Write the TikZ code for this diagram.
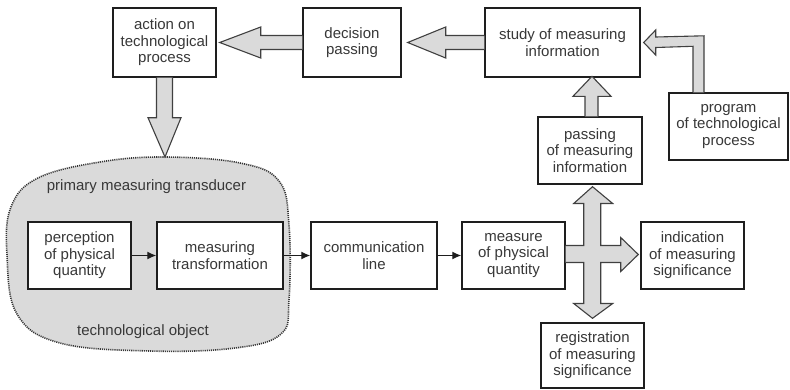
\documentclass[tikz,border=0pt]{standalone}
\usepackage{fontspec}
\setmainfont{Liberation Sans}
\usetikzlibrary{arrows.meta,calc}
\definecolor{ink}{HTML}{1E1E1E}
\definecolor{txt}{HTML}{383838}
\definecolor{shade}{HTML}{DADADA}
\tikzset{
  blk/.style={draw=ink, line width=1.4pt, fill=white, align=center, inner sep=0pt,
    text=txt, font=\fontsize{15}{16.6}\selectfont},
  barrow/.style={draw=ink!85, line width=1.1pt, fill=shade, line join=miter},
  thin/.style={draw=ink, line width=1.3pt, -{Latex[length=9pt,width=8pt]}},
  lbl/.style={text=txt, font=\fontsize{15}{16.6}\selectfont, inner sep=0pt},
}
\begin{document}
\begin{tikzpicture}[x=1pt, y=-1pt]
\useasboundingbox (0,0) rectangle (790,389);

% technological object (dotted region)
\path[fill=shade, draw=ink!90, line width=1.6pt, dash pattern=on 1.1pt off 1pt]
  plot[smooth cycle, tension=0.65] coordinates {
    (165,157) (240,163) (279,181) (289,225) (289,300) (281,334) (235,348)
    (150,351) (60,343) (17,314) (7,255) (11,207) (38,178) (100,162)};
\coordinate (objtop) at (165,157);
\node[lbl] (ptrans) at (146.5,187) {primary measuring transducer};
\node[lbl] (tobj) at (143,332) {technological object};

% blocks
\node[blk, minimum width=103pt, minimum height=69pt] (act)  at (164.5,42.5) {action on\\technological\\process};
\node[blk, minimum width=98pt,  minimum height=69pt] (dec)  at (352,42.5)   {decision\\passing};
\node[blk, minimum width=155pt, minimum height=69pt] (stud) at (562.5,42.5) {study of measuring\\information};
\node[blk, minimum width=119pt, minimum height=67pt] (prog) at (728.5,126.5) {program\\of technological\\process};
\node[blk, minimum width=104pt, minimum height=67pt] (pass) at (590,150.5)  {passing\\of measuring\\information};
\node[blk, minimum width=103pt, minimum height=67pt] (perc) at (79.5,255.5) {perception\\of physical\\quantity};
\node[blk, minimum width=126pt, minimum height=67pt] (mtr)  at (220,255.5)  {measuring\\transformation};
\node[blk, minimum width=126pt, minimum height=67pt] (comm) at (374,255.5)  {communication\\line};
\node[blk, minimum width=103pt, minimum height=67pt] (meas) at (513.5,255.5) {measure\\of physical\\quantity};
\node[blk, minimum width=103pt, minimum height=67pt] (ind)  at (692.5,255.5) {indication\\of measuring\\significance};
\node[blk, minimum width=103pt, minimum height=65pt] (reg)  at (592.5,355.5) {registration\\of measuring\\significance};

% thin signal arrows
\draw[thin] (perc.east) -- (mtr.west);
\draw[thin] (mtr.east) -- (comm.west);
\draw[thin] (comm.east) -- (meas.west);

% decision -> action
\draw[barrow] ($(dec.west)+(0,-7)$) -- ($(act.east)+(44,-7)$) -- ($(act.east)+(44,-15.5)$)
  -- ($(act.east)+(3,0)$) -- ($(act.east)+(44,15.5)$) -- ($(act.east)+(44,7)$) -- ($(dec.west)+(0,7)$);
% study -> decision
\draw[barrow] ($(stud.west)+(0,-7)$) -- ($(dec.east)+(44,-7)$) -- ($(dec.east)+(44,-15.5)$)
  -- ($(dec.east)+(6,0)$) -- ($(dec.east)+(44,15.5)$) -- ($(dec.east)+(44,7)$) -- ($(stud.west)+(0,7)$);
% action -> technological object
\draw[barrow] ($(act.south)+(-8,0)$) -- ($(act.south)+(-8,40)$) -- ($(act.south)+(-16.5,40)$)
  -- (objtop) -- ($(act.south)+(16.5,40)$) -- ($(act.south)+(8,40)$) -- ($(act.south)+(8,0)$);
% program -> study
\draw[barrow] ($(prog.north)+(-35.5,0)$) -- ($(prog.north)+(-35.5,-46)$) -- ($(stud.east)+(15,5)$)
  -- ($(stud.east)+(15,12.5)$) -- ($(stud.east)+(3,0)$) -- ($(stud.east)+(15,-12.5)$)
  -- ($(stud.east)+(15,-5.5)$) -- ($(prog.north)+(-24.5,-56.5)$) -- ($(prog.north)+(-24.5,0)$);
% passing -> study
\draw[barrow] ($(pass.north)+(-5,0)$) -- ($(pass.north)+(-5,-20)$) -- ($(pass.north)+(-17,-20)$)
  -- ($(pass.north)+(2,-40)$) -- ($(pass.north)+(21,-20)$) -- ($(pass.north)+(8,-20)$) -- ($(pass.north)+(8,0)$);

% measure -> passing / indication / registration
\coordinate (cx) at ($(meas.east)+(27,0)$);
\draw[barrow] ($(meas.east)+(0,-10)$) -- ($(cx)+(-9,-10)$) -- ($(cx)+(-9,-52)$) -- ($(cx)+(-19,-52)$)
  -- ($(pass.south)+(2.5,2)$) -- ($(cx)+(20,-52)$) -- ($(cx)+(8,-52)$) -- ($(cx)+(8,-10)$)
  -- ($(cx)+(28,-10)$) -- ($(cx)+(28,-18)$) -- ($(ind.west)+(-2,-1)$) -- ($(cx)+(28,16)$)
  -- ($(cx)+(28,7)$) -- ($(cx)+(8,7)$) -- ($(cx)+(8,48)$) -- ($(cx)+(20,48)$)
  -- ($(reg.north)+(0,-4)$) -- ($(cx)+(-19,48)$) -- ($(cx)+(-9,48)$) -- ($(cx)+(-9,7)$)
  -- ($(meas.east)+(0,7)$);
\end{tikzpicture}
\end{document}
